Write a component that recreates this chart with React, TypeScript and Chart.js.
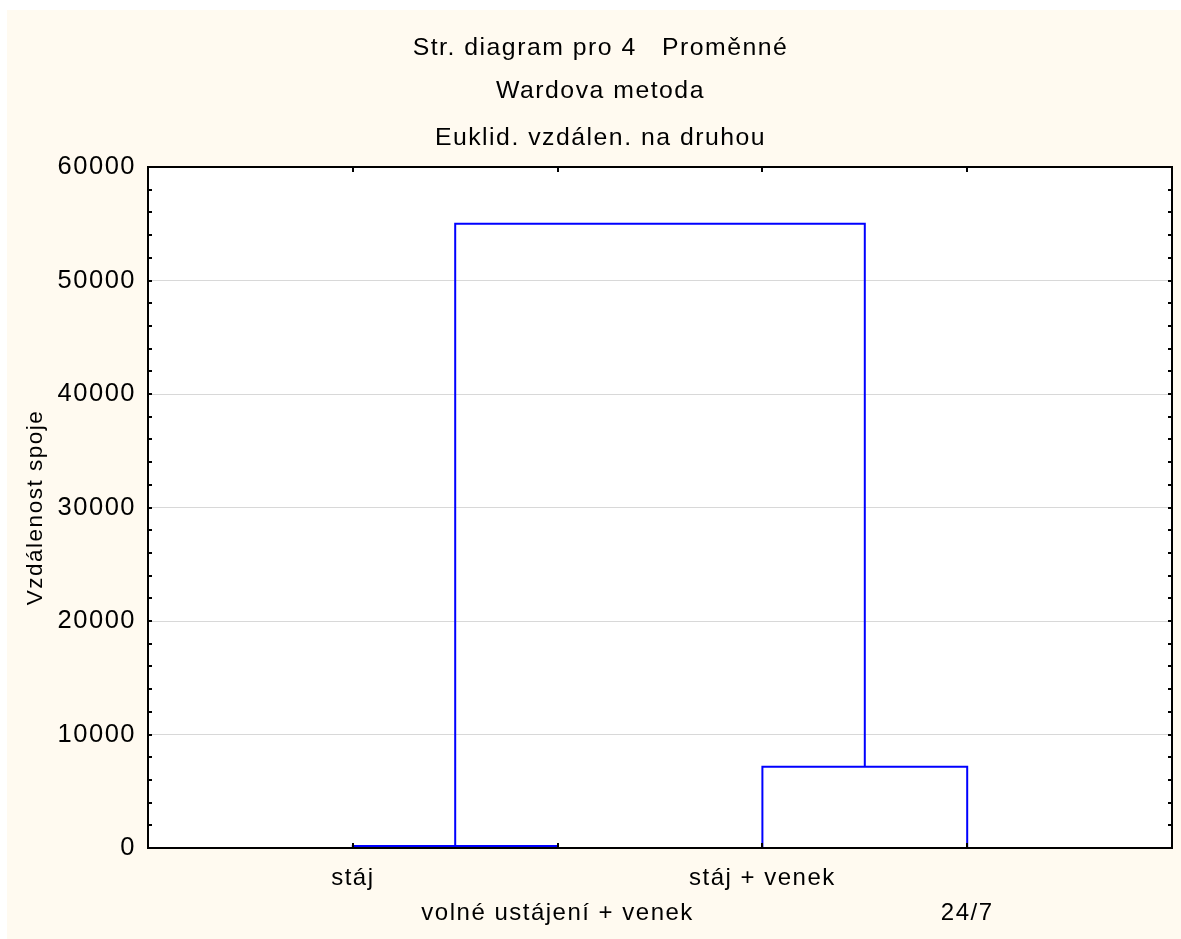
import React, { useEffect, useRef } from 'react';
import { Chart, registerables } from 'chart.js';

Chart.register(...registerables);

// ---- data ----
const titleLines = ['Str. diagram pro 4   Proměnné', 'Wardova metoda'];
const subtitleText = 'Euklid. vzdálen. na druhou';
const yAxisTitle = 'Vzdálenost spoje';
const leafLabels = ['stáj', 'volné ustájení + venek', 'stáj + venek', '24/7'];
// nodes 0..3 are leaves, 4.. are merges (in order)
const mergeLeft = [0, 2, 4];
const mergeRight = [1, 3, 5];
const mergeHeights = [180, 7150, 55000];
const yTickValues = [0, 10000, 20000, 30000, 40000, 50000, 60000];
const yMinorStep = 2000;
const yMax = 60000;

// ---- styles ----
const FONT = '"Liberation Sans", Arial, sans-serif';
const CREAM = '#FFFAF0';
const LINK_COLOR = '#0000FF';

function buildDatasets() {
  const pos: number[] = leafLabels.map((_, i) => i + 1);
  const hgt: number[] = leafLabels.map(() => 0);
  const sets: any[] = [];
  mergeHeights.forEach((h, k) => {
    const l = mergeLeft[k];
    const r = mergeRight[k];
    sets.push({
      label: 'link ' + (k + 1),
      data: [
        { x: pos[l], y: hgt[l] },
        { x: pos[l], y: h },
        { x: pos[r], y: h },
        { x: pos[r], y: hgt[r] },
      ],
      showLine: true,
      borderColor: LINK_COLOR,
      borderWidth: 2,
      pointRadius: 0,
      tension: 0,
      fill: false,
      clip: false,
    });
    pos.push((pos[l] + pos[r]) / 2);
    hgt.push(h);
  });
  return sets;
}

const framePlugin = {
  id: 'framePlugin',
  beforeUpdate(chart: any) {
    chart.ctx.letterSpacing = '1.5px';
  },
  beforeDraw(chart: any) {
    const { ctx, chartArea, width, height } = chart;
    ctx.letterSpacing = '1.5px';
    ctx.save();
    ctx.fillStyle = CREAM;
    ctx.fillRect(0, 0, width, height);
    ctx.fillStyle = '#FFFFFF';
    ctx.fillRect(chartArea.left, chartArea.top, chartArea.right - chartArea.left, chartArea.bottom - chartArea.top);
    ctx.restore();
  },
  afterDatasetsDraw(chart: any) {
    const { ctx, chartArea } = chart;
    const { left, right, top, bottom } = chartArea;
    const xs = chart.scales.x;
    const ys = chart.scales.y;
    ctx.save();
    ctx.strokeStyle = '#000000';
    ctx.lineWidth = 2;
    ctx.beginPath();
    for (let v = 0; v <= yMax; v += yMinorStep) {
      const y = Math.round(ys.getPixelForValue(v));
      ctx.moveTo(left, y);
      ctx.lineTo(left + 4, y);
      ctx.moveTo(right, y);
      ctx.lineTo(right - 4, y);
    }
    leafLabels.forEach((_, i) => {
      const x = Math.round(xs.getPixelForValue(i + 1));
      ctx.moveTo(x, bottom);
      ctx.lineTo(x, bottom - 5);
      ctx.moveTo(x, top);
      ctx.lineTo(x, top + 5);
    });
    ctx.stroke();
    ctx.strokeRect(left, top, right - left, bottom - top);
    ctx.restore();
  },
};

export default function App() {
  const canvasRef = useRef<HTMLCanvasElement | null>(null);

  useEffect(() => {
    const canvas = canvasRef.current;
    if (!canvas) return;
    const chart = new Chart(canvas, {
      type: 'scatter',
      data: { datasets: buildDatasets() },
      plugins: [framePlugin],
      options: {
        animation: false,
        responsive: false,
        devicePixelRatio: 1,
        layout: { padding: { left: 22, right: 9, top: 0, bottom: 0 } },
        plugins: {
          legend: { display: false },
          tooltip: { enabled: false },
          title: {
            display: true,
            text: titleLines,
            color: '#000000',
            font: { family: FONT, size: 24.8, weight: 'normal', lineHeight: 43 / 24.8 },
            padding: { top: 17, bottom: 0 },
          },
          subtitle: {
            display: true,
            text: subtitleText,
            color: '#000000',
            font: { family: FONT, size: 24.8, weight: 'normal', lineHeight: 35.3 / 24.8 },
            padding: { top: 7.5, bottom: 11.2 },
          },
        },
        scales: {
          x: {
            type: 'linear',
            min: 0,
            max: leafLabels.length + 1,
            border: { display: false },
            grid: { display: false, drawTicks: false },
            afterBuildTicks: (scale: any) => {
              scale.ticks = leafLabels.map((_, i) => ({ value: i + 1 }));
            },
            afterFit: (scale: any) => {
              scale.height = 91;
            },
            ticks: {
              autoSkip: false,
              maxRotation: 0,
              minRotation: 0,
              color: '#000000',
              padding: 13,
              font: { family: FONT, size: 24, lineHeight: 35 / 24 },
              callback: (_v: any, index: number) =>
                index % 2 === 0 ? leafLabels[index] : ['', leafLabels[index]],
            },
          },
          y: {
            type: 'linear',
            min: 0,
            max: yMax,
            border: { display: false },
            grid: { color: '#D8D8D8', lineWidth: 1, drawTicks: false },
            afterBuildTicks: (scale: any) => {
              scale.ticks = yTickValues.map((v) => ({ value: v }));
            },
            afterFit: (scale: any) => {
              scale.width = 119;
            },
            ticks: {
              color: '#000000',
              padding: 12,
              font: { family: FONT, size: 25.5 },
              callback: (v: any) => String(v),
            },
            title: {
              display: true,
              text: yAxisTitle,
              color: '#000000',
              font: { family: FONT, size: 22.5, lineHeight: 1.2 },
              padding: { top: -7.2, bottom: 0 },
            },
          },
        },
      } as any,
    });
    return () => chart.destroy();
  }, []);

  return (
    <div
      style={{
        position: 'absolute',
        left: 7,
        top: 10,
        width: 1174,
        height: 929,
        overflow: 'hidden',
        background: CREAM,
      }}
    >
      <canvas ref={canvasRef} width={1174} height={929} style={{ display: 'block', width: 1174, height: 929 }} />
    </div>
  );
}
